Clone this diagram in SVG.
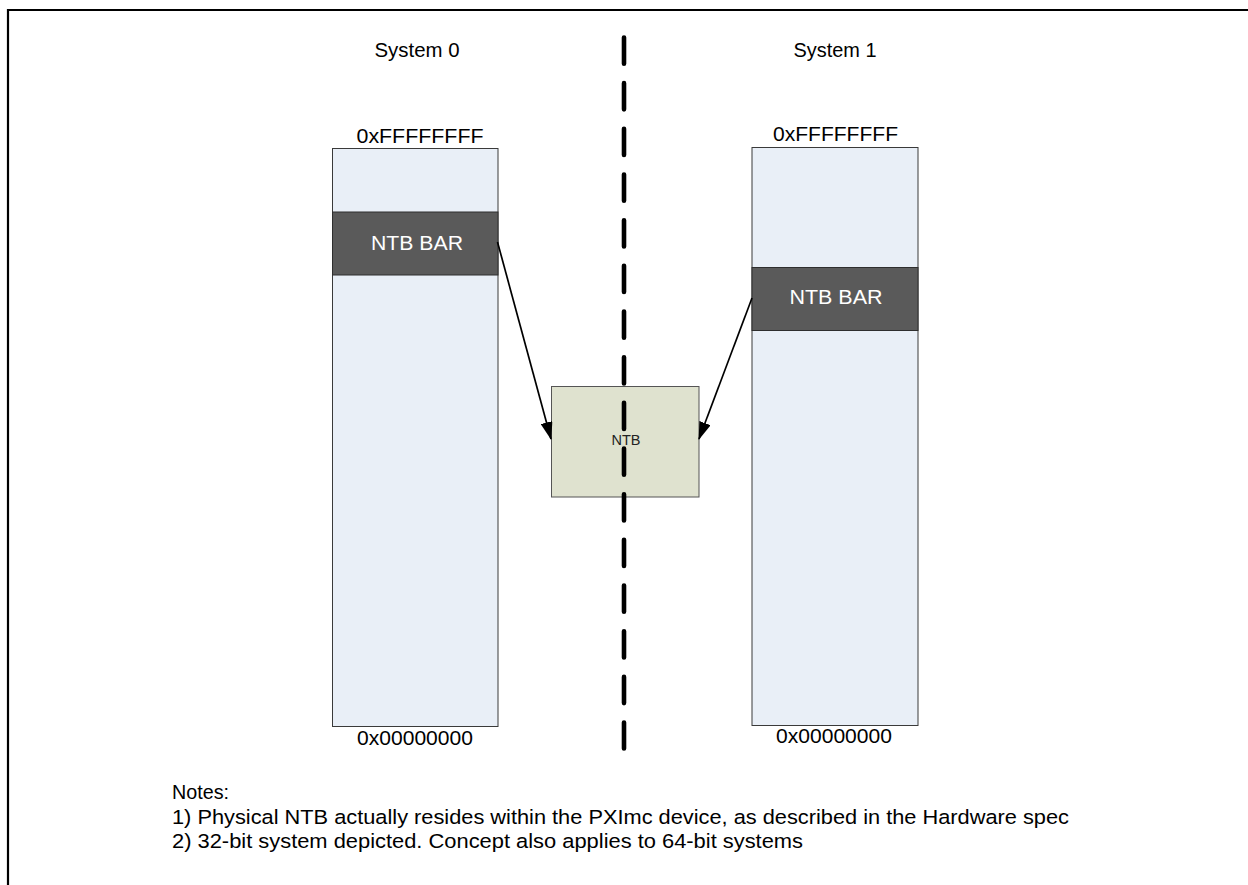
<svg xmlns="http://www.w3.org/2000/svg" width="1248" height="885" viewBox="0 0 1248 885">
  <style>
    .lbl { font-family: "Liberation Sans", Arial, sans-serif; font-size: 20.5px; fill: #000; }
    .mid { text-anchor: middle; }
    .mem { fill: #e9eff7; stroke: #3a3a3a; stroke-width: 1; }
    .bar { fill: #5a5a5a; stroke: #2e2e2e; stroke-width: 1; }
    .barText { font-family: "Liberation Sans", Arial, sans-serif; font-size: 20.5px; fill: #fff; text-anchor: middle; }
    .ntb { fill: #dfe2cf; stroke: #555; stroke-width: 1; }
    .link { stroke: #000; stroke-width: 1.7; fill: none; }
  </style>
  <defs>
    <marker id="arrow" viewBox="0 0 18 12" refX="17" refY="6" markerWidth="18" markerHeight="12" markerUnits="userSpaceOnUse" orient="auto">
      <path d="M0,0 L18,6 L0,12 Z" fill="#000"/>
    </marker>
  </defs>

  <rect width="1248" height="885" fill="#fff"/>

  <!-- page frame (top and left edges) -->
  <path d="M8,885 V10 H1248" fill="none" stroke="#000" stroke-width="2.2"/>

  <!-- system headings -->
  <text class="lbl mid" x="417" y="57" textLength="85" lengthAdjust="spacingAndGlyphs">System 0</text>
  <text class="lbl mid" x="835" y="57" textLength="83" lengthAdjust="spacingAndGlyphs">System 1</text>

  <!-- System 0 address space -->
  <g id="system0-memory">
    <text class="lbl mid" x="420" y="143" textLength="127" lengthAdjust="spacingAndGlyphs">0xFFFFFFFF</text>
    <rect class="mem" x="332.5" y="148.5" width="165.5" height="578"/>
    <text class="lbl mid" x="415" y="745" textLength="116" lengthAdjust="spacingAndGlyphs">0x00000000</text>
  </g>
  <g id="system0-ntb-bar">
    <rect class="bar" x="332.5" y="212" width="165.5" height="63"/>
    <text class="barText" x="417" y="250" textLength="92" lengthAdjust="spacingAndGlyphs">NTB BAR</text>
  </g>

  <!-- System 1 address space -->
  <g id="system1-memory">
    <text class="lbl mid" x="835.5" y="141" textLength="125" lengthAdjust="spacingAndGlyphs">0xFFFFFFFF</text>
    <rect class="mem" x="752" y="147.5" width="166" height="578"/>
    <text class="lbl mid" x="834" y="743" textLength="116" lengthAdjust="spacingAndGlyphs">0x00000000</text>
  </g>
  <g id="system1-ntb-bar">
    <rect class="bar" x="752" y="267.5" width="166" height="63"/>
    <text class="barText" x="836" y="304" textLength="93" lengthAdjust="spacingAndGlyphs">NTB BAR</text>
  </g>

  <!-- bridge device -->
  <g id="ntb">
    <rect class="ntb" x="551.5" y="386.5" width="147.5" height="110.5"/>
    <text x="626" y="445" font-family="'Liberation Sans', Arial, sans-serif" font-size="14" fill="#222" text-anchor="middle" textLength="29" lengthAdjust="spacingAndGlyphs">NTB</text>
  </g>

  <!-- system boundary, drawn over the bridge box -->
  <line x1="624" y1="37.5" x2="624" y2="748.5" stroke="#000" stroke-width="4.6" stroke-linecap="round" stroke-dasharray="26.2 19.47"/>

  <!-- BAR to NTB mappings -->
  <g id="connectors">
    <line class="link" x1="497.5" y1="242" x2="551" y2="439" marker-end="url(#arrow)"/>
    <line class="link" x1="752" y1="298" x2="699" y2="439" marker-end="url(#arrow)"/>
  </g>

  <!-- notes -->
  <g id="notes">
    <text class="lbl" x="172" y="799" textLength="57" lengthAdjust="spacingAndGlyphs">Notes:</text>
    <text class="lbl" x="172" y="824" textLength="897" lengthAdjust="spacingAndGlyphs">1) Physical NTB actually resides within the PXImc device, as described in the Hardware spec</text>
    <text class="lbl" x="172" y="848" textLength="631" lengthAdjust="spacingAndGlyphs">2) 32-bit system depicted. Concept also applies to 64-bit systems</text>
  </g>
</svg>
